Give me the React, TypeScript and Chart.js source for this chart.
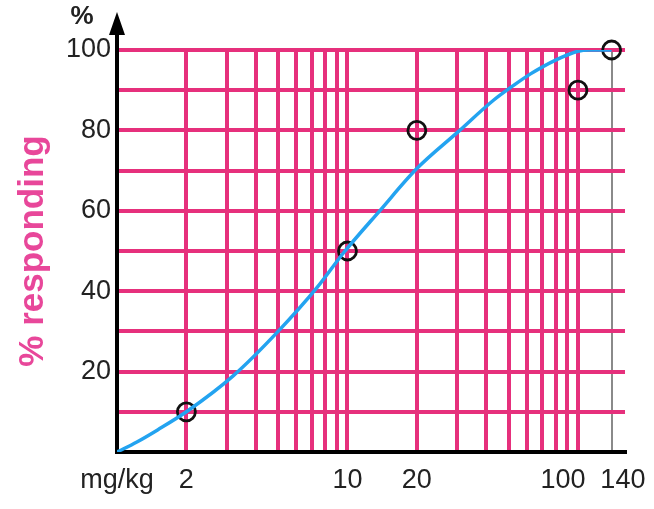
import React, { useEffect, useRef } from "react";
import { Chart, registerables } from "chart.js";

Chart.register(...registerables);

// Fitted dose-response curve
const curveX = [1, 1.22, 1.5, 2, 3.2, 5, 7.4, 9.6, 13.8, 20, 30, 43, 52, 62, 80, 100, 112, 140];
const curveY = [0, 2.5, 5.5, 10, 19, 30, 41, 49.5, 60, 70.5, 79.5, 87.5, 91, 94, 97.5, 99.7, 100, 100];

// Observed data points
const pointX = [2, 10, 20, 100, 140];
const pointY = [10, 50, 80, 90, 100];

// Axis grid / tick values
const xGridValues = [1, 2, 3, 4, 5, 6, 7, 8, 9, 10, 20, 30, 40, 50, 60, 70, 80, 90, 100, 140];
const xLabelValues = [1, 2, 10, 20, 100, 140];
const xLabelTexts = ["mg/kg", "2", "10", "20", "100    ", "   140"];
const yLabelValues = [20, 40, 60, 80, 100];
const yLabelTexts = ["20", "40", "60", "80", "100"];

const PINK = "#e6307c";
const NARROW = "'Liberation Sans Narrow', 'Arial Narrow', 'Liberation Sans', sans-serif";
const TICK_FONT = { family: NARROW, size: 27 };

export default function App() {
  const ref = useRef<HTMLCanvasElement | null>(null);

  useEffect(() => {
    document.body.style.margin = "0";
    const canvas = ref.current;
    if (!canvas) return;

    const axisDecor = {
      id: "axisDecor",
      afterDraw(chart: any) {
        const { ctx, chartArea } = chart;
        const x = chartArea.left;
        const top = chartArea.top;
        ctx.save();
        ctx.strokeStyle = "#000";
        ctx.fillStyle = "#000";
        ctx.lineWidth = 4;
        ctx.beginPath();
        ctx.moveTo(x, top + 2);
        ctx.lineTo(x, top - 20);
        ctx.stroke();
        ctx.beginPath();
        ctx.moveTo(x, top - 38);
        ctx.lineTo(x - 8, top - 15);
        ctx.lineTo(x + 8, top - 15);
        ctx.closePath();
        ctx.fill();
        ctx.font = "bold 26px " + NARROW;
        ctx.fillStyle = "#222";
        ctx.textAlign = "center";
        ctx.textBaseline = "middle";
        ctx.fillText("%", x - 35, top - 33);
        ctx.restore();
      },
    };

    const chart = new Chart(canvas, {
      type: "line",
      data: {
        datasets: [
          {
            type: "line",
            data: curveX.map((x, i) => ({ x, y: curveY[i] })),
            borderColor: "#23a3f0",
            borderWidth: 3.5,
            pointRadius: 0,
            cubicInterpolationMode: "monotone",
            fill: false,
          } as any,
          {
            type: "scatter",
            data: pointX.map((x, i) => ({ x, y: pointY[i] })),
            pointRadius: 9,
            pointBorderWidth: 2.8,
            borderColor: "#111",
            backgroundColor: "rgba(0,0,0,0)",
            showLine: false,
            clip: false,
          } as any,
        ],
      },
      options: {
        responsive: false,
        animation: false,
        layout: { padding: { top: 50, right: 29, left: 0, bottom: 0 } },
        plugins: { legend: { display: false }, tooltip: { enabled: false } },
        scales: {
          x: {
            type: "logarithmic",
            min: 1,
            max: 160,
            afterBuildTicks: (s: any) => {
              s.ticks = xGridValues.map((v) => ({ value: v }));
            },
            afterFit: (s: any) => {
              s.height = 57;
              s.paddingLeft = 0;
              s.paddingRight = 0;
            },
            ticks: {
              autoSkip: false,
              maxRotation: 0,
              padding: 12,
              color: "#222",
              font: TICK_FONT,
              callback: (v: any) => {
                const i = xLabelValues.indexOf(Number(v));
                return i >= 0 ? xLabelTexts[i] : "";
              },
            },
            grid: {
              drawTicks: false,
              color: (c: any) => {
                const v = c.tick ? c.tick.value : null;
                if (v === 1) return "rgba(0,0,0,0)";
                if (v === 140) return "#8a8a8a";
                return PINK;
              },
              lineWidth: (c: any) => (c.tick && c.tick.value === 140 ? 2 : 4),
            },
            border: { display: true, color: "#000", width: 4 },
          },
          y: {
            type: "linear",
            min: 0,
            max: 100,
            afterFit: (s: any) => {
              s.width = 117;
              s.paddingTop = 0;
              s.paddingBottom = 0;
            },
            ticks: {
              stepSize: 10,
              padding: 6,
              color: "#222",
              font: TICK_FONT,
              callback: (v: any) => {
                const i = yLabelValues.indexOf(Number(v));
                return i >= 0 ? yLabelTexts[i] : "";
              },
            },
            grid: {
              drawTicks: false,
              color: (c: any) => (c.tick && c.tick.value === 0 ? "rgba(0,0,0,0)" : PINK),
              lineWidth: 4,
            },
            border: { display: true, color: "#000", width: 4 },
            title: {
              display: true,
              text: "% responding",
              color: "#e8479a",
              font: { family: "'Liberation Sans', Arial, sans-serif", size: 35, weight: "bold" },
              padding: { top: 12, bottom: 0 },
            },
          },
        },
      },
      plugins: [axisDecor],
    } as any);

    return () => chart.destroy();
  }, []);

  return (
    <div style={{ width: 654, height: 509, background: "#fff" }}>
      <canvas ref={ref} width={654} height={509} />
    </div>
  );
}
